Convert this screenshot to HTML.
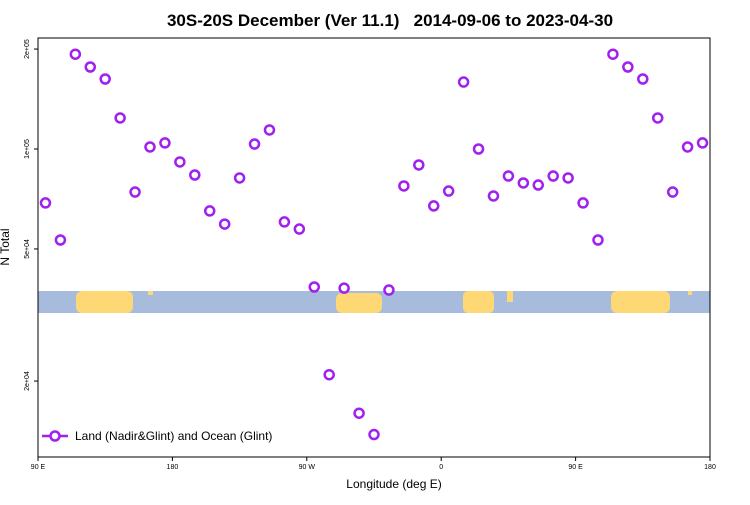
<!DOCTYPE html>
<html><head><meta charset="utf-8"><style>
body{margin:0;background:#fff;font-family:"Liberation Sans",sans-serif}
</style></head><body>
<svg id="c" width="750" height="500" xmlns="http://www.w3.org/2000/svg">
<text x="390" y="26" text-anchor="middle" font-size="17" font-weight="bold" style="white-space:pre">30S-20S December (Ver 11.1)   2014-09-06 to 2023-04-30</text>
<g>
<rect x="38" y="291" width="672" height="22" fill="#a7bcdc"/>
<rect x="76" y="291" width="57" height="22" rx="6" fill="#fdd874"/>
<rect x="148" y="291" width="5" height="4" fill="#fdd874"/>
<rect x="336" y="293" width="46" height="20" rx="6" fill="#fdd874"/>
<rect x="463" y="291" width="31" height="22" rx="5" fill="#fdd874"/>
<rect x="507" y="291" width="6" height="11" fill="#fdd874"/>
<rect x="611" y="291" width="59" height="22" rx="6" fill="#fdd874"/>
<rect x="688" y="291" width="4" height="4" fill="#fdd874"/>
</g>
<rect x="38" y="38" width="672" height="419" fill="none" stroke="#000" stroke-width="1"/>
<g id="ax"></g>
<g id="pts"></g>
<text x="394" y="488" text-anchor="middle" font-size="12">Longitude (deg E)</text>
<text transform="translate(9,247) rotate(-90)" text-anchor="middle" font-size="12">N Total</text>
<g>
<line x1="42" y1="436" x2="68" y2="436" stroke="#a020f0" stroke-width="2.5"/>
<circle cx="55" cy="436" r="4.5" fill="#fff" stroke="#a020f0" stroke-width="2.5"/>
<text x="75" y="440" font-size="12">Land (Nadir&amp;Glint) and Ocean (Glint)</text>
</g>
</svg>
<script>
const lons=[95,105,115,125,135,145,155,165,175,185,195,205,215,225,235,245,255,265,275,285,295,305,315,325,335,345,355,365,375,385,395,405,415,425,435,445,455,465,475,485,495,505,515,525,535];
const values=[68800,53200,193000,176600,162500,124000,74200,101400,104300,91400,83500,65100,59400,81800,103500,114100,60300,57400,38400,20900,38100,16000,13800,37600,77400,89500,67400,74700,159100,100000,72200,82900,79000,77900,82900,81800,68800,53200,193000,176600,162500,124000,74200,101400,104300];
const xTickPos=[90,180,270,360,450,540];
const xTickLabels=["90 E","180","90 W","0","90 E","180"];
const yTicks=[200000,100000,50000,20000];
const yTickLabels=["2e+05","1e+05","5e+04","2e+04"];
const NS="http://www.w3.org/2000/svg";
function xs(l){return 38+(l-90)*672/450;}
function ys(v){return 149-332*Math.log10(v/1e5);}
const ax=document.getElementById('ax'),pts=document.getElementById('pts');
function mk(t,a,p){const e=document.createElementNS(NS,t);for(const k in a)e.setAttribute(k,a[k]);p.appendChild(e);return e;}
xTickPos.forEach((l,i)=>{const x=xs(l);
mk('line',{x1:x,y1:457,x2:x,y2:461,stroke:'#000'},ax);
const t=mk('text',{x:x,y:469,'font-size':7,'text-anchor':'middle'},ax);t.textContent=xTickLabels[i];

});
yTicks.forEach((v,i)=>{const y=ys(v);
mk('line',{x1:34,y1:y,x2:38,y2:y,stroke:'#000'},ax);
const t=mk('text',{transform:`translate(29,${y}) rotate(-90)`,'font-size':7,'text-anchor':'middle'},ax);t.textContent=yTickLabels[i];

});
values.forEach((v,i)=>{const c=mk('circle',{cx:xs(lons[i]),cy:ys(v),r:4.5,fill:'#fff',stroke:'#a020f0','stroke-width':2.5},pts);

});
</script>
</body></html>
